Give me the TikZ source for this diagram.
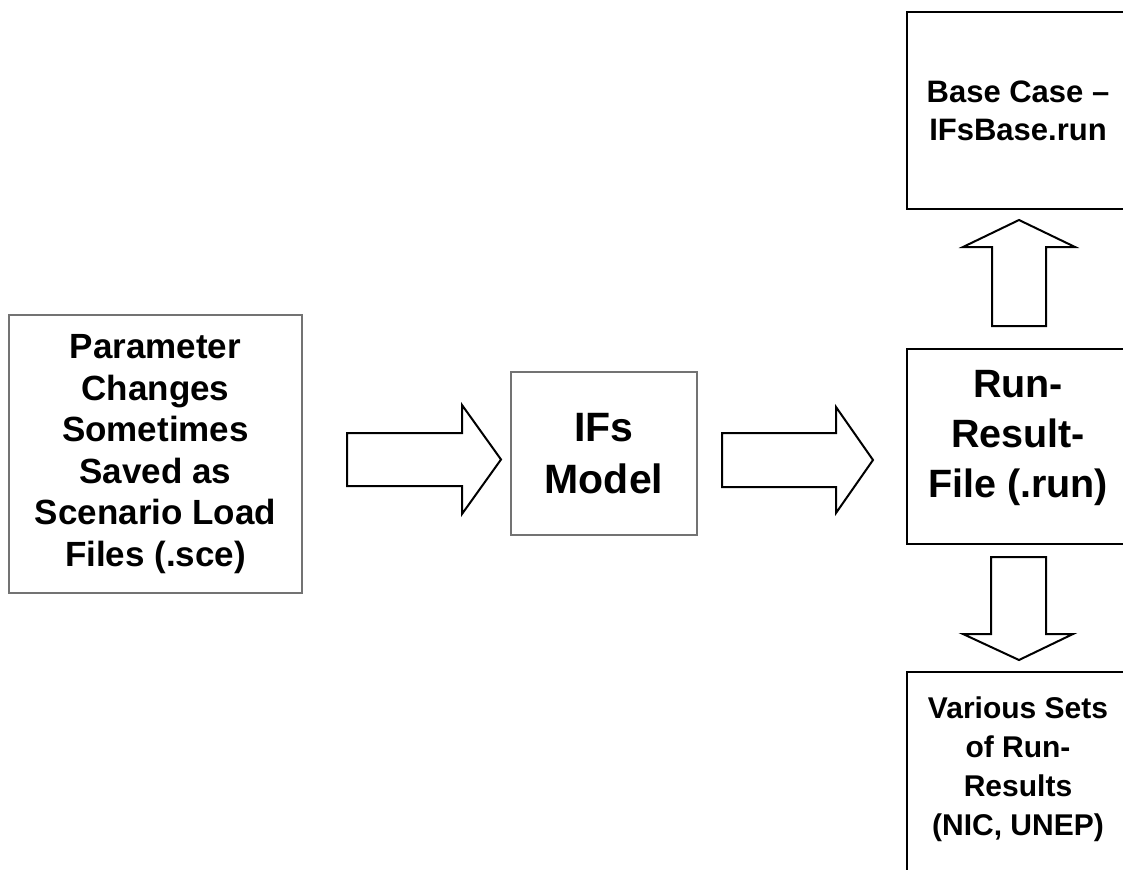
\documentclass[tikz,border=0pt]{standalone}
\usepackage{fontspec}
\setmainfont{Liberation Sans}
\begin{document}
\begin{tikzpicture}[x=1pt,y=-1pt,
  graybox/.style={draw=black!55, line width=1.2pt, fill=white, inner sep=0pt, align=center},
  blackbox/.style={draw=black, line width=1.5pt, fill=white, inner sep=0pt, align=center},
  boxtext/.style={inner sep=0pt, align=center},
  blockarrow/.style={draw=black, line width=2pt, fill=white, line join=miter}]
\useasboundingbox (0,0) rectangle (1123,869);
\clip (0,0) rectangle (1123,869);
\fill[white] (0,0) rectangle (1123,869);

% boxes
\node[graybox, minimum width=293pt, minimum height=278pt,
      font=\bfseries\fontsize{35}{41.6}\selectfont] (param) at (155.5,454)
  {Parameter\\Changes\\Sometimes\\Saved as\\Scenario Load\\Files (.sce)};
\node[graybox, minimum width=186pt, minimum height=163pt,
      font=\bfseries\fontsize{41}{52}\selectfont] (ifs) at (604,453.5)
  {IFs\\Model};
\node[blackbox, minimum width=222pt, minimum height=197pt,
      font=\bfseries\fontsize{31}{38}\selectfont] (base) at (1018,110.5)
  {Base Case --\\IFsBase.run};
\node[blackbox, minimum width=222pt, minimum height=195pt] (run) at (1018,446.5) {};
\node[boxtext, font=\bfseries\fontsize{39.5}{50}\selectfont] (runtext) at (1018,438)
  {Run-\\Result-\\File (.run)};
\node[blackbox, minimum width=222pt, minimum height=240pt] (var) at (1018,792) {};
\node[boxtext, font=\bfseries\fontsize{30}{39}\selectfont] (vartext) at (1018,769)
  {Various Sets\\of Run-\\Results\\(NIC, UNEP)};

% block arrows
\draw[blockarrow] (347,433) -- (462,433) -- (462,405) -- (501,459.5)
  -- (462,514) -- (462,486) -- (347,486) -- cycle;
\draw[blockarrow] (722,433) -- (836,433) -- (836,407) -- (873,460)
  -- (836,513) -- (836,487) -- (722,487) -- cycle;
\draw[blockarrow] (992,326) -- (992,247) -- (963,247) -- (1019,220)
  -- (1075,247) -- (1046,247) -- (1046,326) -- cycle;
\draw[blockarrow] (991,557) -- (991,634) -- (963,634) -- (1019,660)
  -- (1073,634) -- (1046,634) -- (1046,557) -- cycle;
\end{tikzpicture}
\end{document}
